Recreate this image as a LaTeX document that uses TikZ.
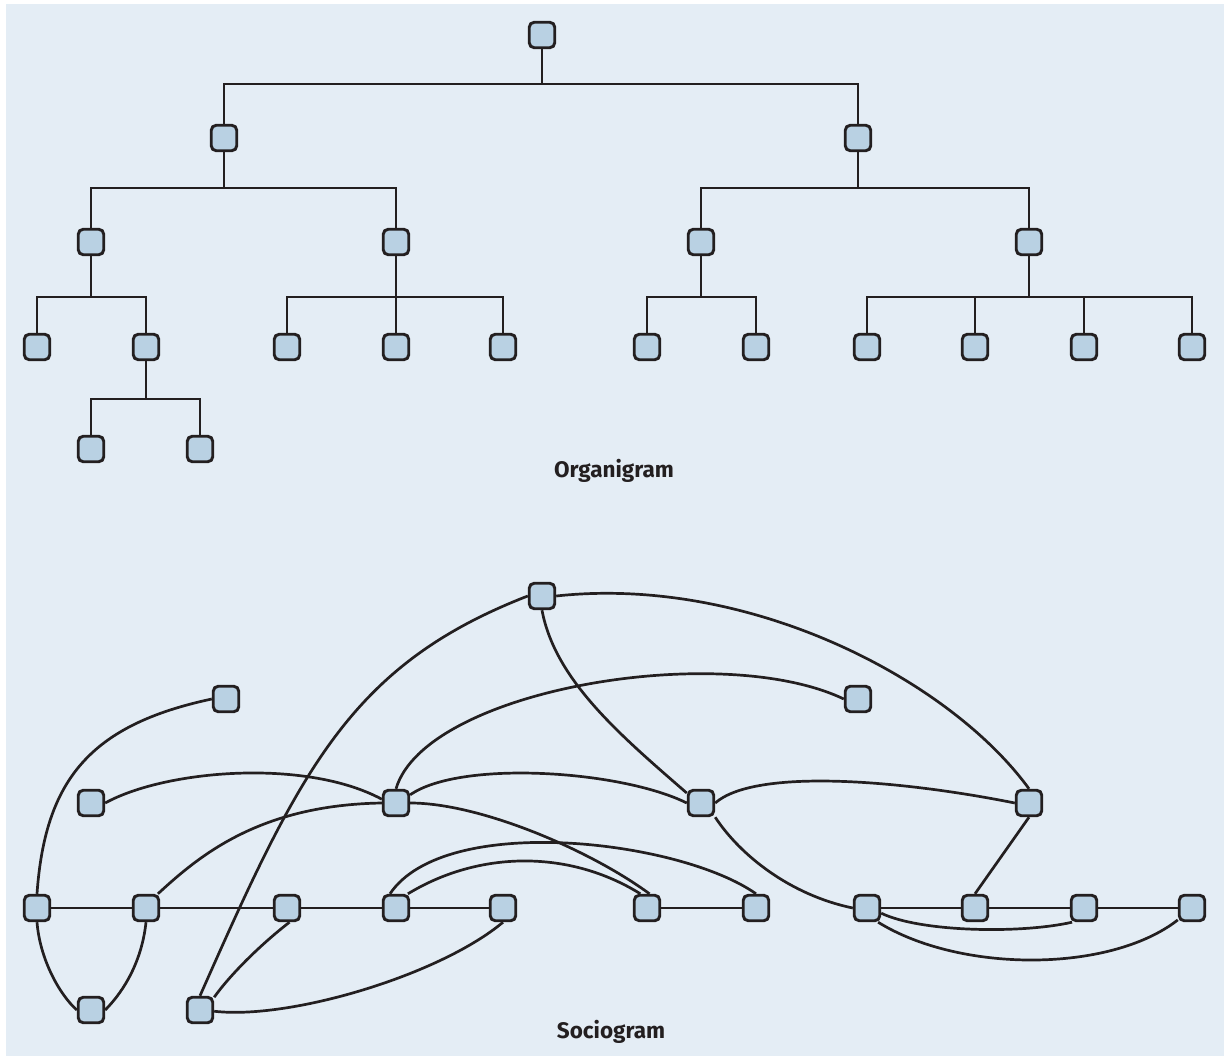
\documentclass[tikz,border=0pt]{standalone}
\usepackage{fontspec}
\setmainfont{Fira Sans}
\pgfdeclarelayer{background}
\pgfdeclarelayer{edges}
\pgfsetlayers{background,edges,main}
\definecolor{bg}{HTML}{E4EDF5}
\definecolor{boxfill}{HTML}{B9D1E3}
\definecolor{ink}{HTML}{231F20}
\tikzset{
  box/.style={draw=ink, fill=boxfill, line width=2.9pt, rounded corners=5pt,
    minimum size=25.5pt, inner sep=0pt},
  link/.style={draw=ink, line width=2.7pt},
  title/.style={font=\bfseries\fontsize{22.5}{26}\selectfont, text=ink, inner sep=0pt}
}
\begin{document}
\begin{tikzpicture}[x=1pt,y=-1pt]
\useasboundingbox (0,0) rectangle (1226,1056);
\begin{pgfonlayer}{background}
\fill[white] (0,0) rectangle (1226,1056);
\fill[bg] (6,4) rectangle (1224,1056);
\end{pgfonlayer}

% ---------- Organigram ----------
\node[box] (r)   at (542,35) {};
\node[box] (a)   at (224,138) {};
\node[box] (b)   at (858,138) {};
\node[box] (a1)  at (91,242) {};
\node[box] (a2)  at (396,242) {};
\node[box] (b1)  at (701,242) {};
\node[box] (b2)  at (1029,242) {};
\node[box] (a11) at (37,347) {};
\node[box] (a12) at (146,347) {};
\node[box] (a21) at (287,347) {};
\node[box] (a22) at (396,347) {};
\node[box] (a23) at (503,347) {};
\node[box] (b11) at (647,347) {};
\node[box] (b12) at (756,347) {};
\node[box] (b21) at (867,347) {};
\node[box] (b22) at (975,347) {};
\node[box] (b23) at (1084,347) {};
\node[box] (b24) at (1192,347) {};
\node[box] (a121) at (91,449) {};
\node[box] (a122) at (200,449) {};

\begin{pgfonlayer}{edges}
\foreach \p/\c/\y in {r/a/84, r/b/84,
  a/a1/188, a/a2/188, b/b1/188, b/b2/188,
  a1/a11/297, a1/a12/297, a2/a21/297, a2/a22/297, a2/a23/297,
  b1/b11/297, b1/b12/297, b2/b21/297, b2/b22/297, b2/b23/297, b2/b24/297,
  a12/a121/399, a12/a122/399}
  \draw[link] (\p.south) -- (\p.south |- 0,\y) -| (\c.north);
\end{pgfonlayer}

\node[title] (t1) at (614,471) {Organigram};

% ---------- Sociogram ----------
\node[box] (A) at (542,596) {};
\node[box] (B) at (226,699) {};
\node[box] (C) at (858,699) {};
\node[box] (D) at (91,803) {};
\node[box] (E) at (396,803) {};
\node[box] (F) at (701,803) {};
\node[box] (G) at (1029,803) {};
\node[box] (H) at (37,908) {};
\node[box] (I) at (146,908) {};
\node[box] (J) at (287,908) {};
\node[box] (K) at (396,908) {};
\node[box] (L) at (503,908) {};
\node[box] (M) at (647,908) {};
\node[box] (N) at (756,908) {};
\node[box] (O) at (867,908) {};
\node[box] (P) at (975,908) {};
\node[box] (Q) at (1084,908) {};
\node[box] (R) at (1192,908) {};
\node[box] (S) at (91,1010) {};
\node[box] (T) at (200,1010) {};

\begin{pgfonlayer}{edges}
% straight links
\draw[link] (H) -- (I);
\draw[link] (I) -- (J);
\draw[link] (J) -- (K);
\draw[link] (K) -- (L);
\draw[link] (M) -- (N);
\draw[link] (O) -- (P);
\draw[link] (P) -- (Q);
\draw[link] (Q) -- (R);
\draw[link] (G.south) -- (P.north);
% curved links
\draw[link] (H.north) .. controls (45,780) and (90,725) .. (B.west);
\draw[link] (H.south) .. controls (40,960) and (60,995) .. (S.west);
\draw[link] (I.south) .. controls (142,960) and (125,990) .. (S.east);
\draw[link] (D.east) .. controls (165,770) and (305,758) .. (E.165);
\draw[link] (I.50) .. controls (200,855) and (260,805) .. (E.west);
\draw[link] (E.east) .. controls (480,803) and (590,850) .. (M.80);
\draw[link] (E.north) .. controls (425,690) and (720,640) .. (C.west);
\draw[link] (E.30) .. controls (460,760) and (620,770) .. (F.west);
\draw[link] (A.south) .. controls (555,680) and (620,735) .. (F.145);
\draw[link] (A.east) .. controls (750,575) and (950,680) .. (G.north);
\draw[link] (A.west) .. controls (350,665) and (300,770) .. (T.north);
\draw[link] (F.east) .. controls (755,768) and (900,780) .. (G.west);
\draw[link] (F.south east) .. controls (740,855) and (790,895) .. (O.west);
\draw[link] (O.-20) .. controls (920,932) and (1020,934) .. (Q.-130);
\draw[link] (O.-52) .. controls (960,973) and (1110,973) .. (R.220);
\draw[link] (K.113) .. controls (445,812) and (680,840) .. (N.north);
\draw[link] (K.50) .. controls (480,850) and (570,850) .. (M.115);
\draw[link] (J.-80) .. controls (260,945) and (230,975) .. (T.42);
\draw[link] (L.south) .. controls (440,975) and (290,1020) .. (T.-5);
\end{pgfonlayer}

\node[title] (t2) at (611,1032) {Sociogram};
\end{tikzpicture}
\end{document}
